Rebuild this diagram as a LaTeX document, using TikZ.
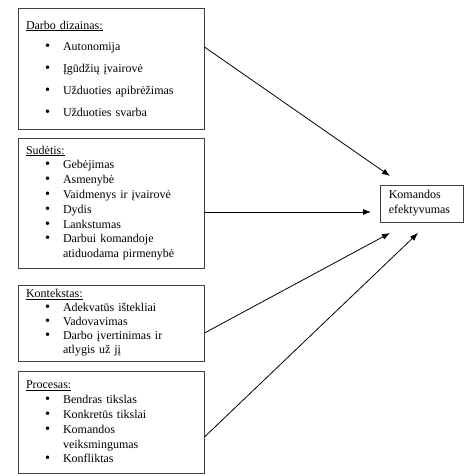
\documentclass[tikz,border=0pt]{standalone}
\usepackage{fontspec}
\setmainfont{Liberation Serif}
\usetikzlibrary{calc, arrows.meta}

\newcommand{\bul}{\hspace*{19pt}\makebox[18pt][l]{\smash{\scalebox{1.2}{\textbullet}}}}
\newcommand{\cont}{\hspace*{37pt}}

\begin{document}
\begin{tikzpicture}[x=1pt, y=-1pt,
    panel/.style={draw=black!75, line width=0.9pt, align=left,
        text width=170pt, inner xsep=8pt, inner ysep=0pt,
        minimum height=#1, font=\fontsize{12}{14.8}\selectfont},
    goal/.style={draw=black!75, line width=0.9pt, align=left,
        text width=67pt, inner xsep=8pt, inner ysep=0pt,
        minimum height=37pt, font=\fontsize{12}{15}\selectfont},
    link/.style={line width=0.8pt, -{Latex[length=8pt,width=6pt]}}]
    \useasboundingbox (0,0) rectangle (474,476);

    \node[panel=121] (design) at (111,68.5) {%
        \underline{Darbo dizainas:}\\[7pt]
        \bul Autonomija\\[7pt]
        \bul Įgūdžių įvairovė\\[7pt]
        \bul Užduoties apibrėžimas\\[7pt]
        \bul Užduoties svarba};
    \node[panel=130] (comp) at (111,203) {%
        \underline{Sudėtis:}\\
        \bul Gebėjimas\\
        \bul Asmenybė\\
        \bul Vaidmenys ir įvairovė\\
        \bul Dydis\\
        \bul Lankstumas\\
        \bul Darbui komandoje\\
        \cont atiduodama pirmenybė};
    \node[panel=76, font=\fontsize{12}{14}\selectfont] (context) at (111,323) {%
        \underline{Kontekstas:}\\
        \bul Adekvatūs ištekliai\\
        \bul Vadovavimas\\
        \bul Darbo įvertinimas ir\\
        \cont atlygis už jį};
    \node[panel=102] (process) at (111,422) {%
        \underline{Procesas:}\\
        \bul Bendras tikslas\\
        \bul Konkretūs tikslai\\
        \bul Komandos\\
        \cont veiksmingumas\\
        \bul Konfliktas};

    \node[goal] (team) at (422.3,203.5) {Komandos\\efektyvumas};

    \coordinate (tipA) at (390,176);
    \coordinate (tipB) at (371,212);
    \coordinate (tipC) at (390,233);
    \coordinate (tipD) at (418,233);

    \draw[link] ($(design.east)+(0,-21.5)$) -- (tipA);
    \draw[link] (comp.east |- tipB) -- (tipB);
    \draw[link] ($(context.east)+(0,10)$) -- (tipC);
    \draw[link] ($(process.east)+(0,15)$) -- (tipD);
\end{tikzpicture}
\end{document}
